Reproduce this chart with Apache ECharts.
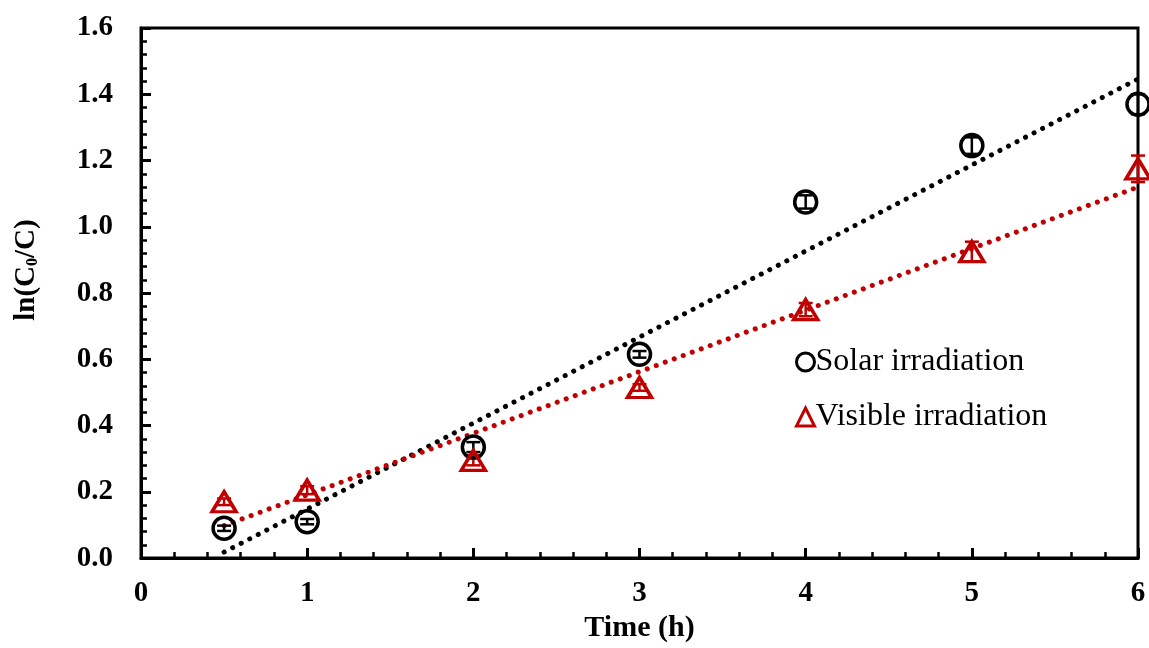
<!DOCTYPE html>
<html>
<head>
<meta charset="utf-8">
<script src="https://cdn.jsdelivr.net/npm/echarts@6/dist/echarts.min.js"></script>
<style>
  html, body { margin: 0; padding: 0; background: #fff; overflow: hidden; }
  #chart { width: 1149px; height: 648px; }
</style>
</head>
<body>
<div id="chart"></div>
<script>
  // time points (h)
  var times = [0.5, 1, 2, 3, 4, 5, 6];
  // ln(C0/C) values
  var solar = [0.09, 0.11, 0.335, 0.615, 1.075, 1.245, 1.37];
  var visible = [0.17, 0.205, 0.295, 0.515, 0.75, 0.925, 1.175];
  // error bar half-widths
  var solarErr = [0.008, 0.008, 0.015, 0.01, 0.02, 0.025, 0.03];
  var visibleErr = [0.01, 0.012, 0.015, 0.01, 0.02, 0.03, 0.04];
  // linear fit lines (end points)
  var solarFit = [[0.5, 0.018], [6, 1.446]];
  var visibleFit = [[0.5, 0.098], [6, 1.12]];
  var yTicks = ['0.0', '0.2', '0.4', '0.6', '0.8', '1.0', '1.2', '1.4', '1.6'];

  var serif = '"Liberation Serif", "Times New Roman", serif';
  var red = '#C00000';

  function pairs(vals) {
    return times.map(function (t, i) { return [t, vals[i]]; });
  }
  function errData(vals, errs) {
    return times.map(function (t, i) { return [t, vals[i] - errs[i], vals[i] + errs[i]]; });
  }
  function errRender(color) {
    return function (params, api) {
      var lo = api.coord([api.value(0), api.value(1)]);
      var hi = api.coord([api.value(0), api.value(2)]);
      var w = 7;
      var style = { stroke: color, lineWidth: 2.5, fill: null };
      return {
        type: 'group',
        children: [
          { type: 'line', shape: { x1: lo[0], y1: lo[1], x2: hi[0], y2: hi[1] }, style: style },
          { type: 'line', shape: { x1: lo[0] - w, y1: lo[1], x2: lo[0] + w, y2: lo[1] }, style: style },
          { type: 'line', shape: { x1: hi[0] - w, y1: hi[1], x2: hi[0] + w, y2: hi[1] }, style: style }
        ]
      };
    };
  }

  var chart = echarts.init(document.getElementById('chart'));
  chart.setOption({
    animation: false,
    backgroundColor: '#fff',
    grid: {
      left: 141, right: 11, top: 28, bottom: 80,
      show: true, borderColor: '#000', borderWidth: 3, backgroundColor: 'transparent'
    },
    legend: {
      orient: 'vertical',
      left: 790,
      top: 341,
      itemGap: 23,
      itemWidth: 18,
      itemHeight: 18,
      textStyle: { fontFamily: serif, fontSize: 32, color: '#000', padding: [0, 0, 0, -4] },
      data: [
        { name: 'Solar irradiation', icon: 'circle', itemStyle: { color: '#fff', borderColor: '#000', borderWidth: 3 } },
        { name: 'Visible irradiation', icon: 'triangle', itemStyle: { color: '#fff', borderColor: red, borderWidth: 3 } }
      ]
    },
    xAxis: {
      type: 'value',
      min: 0, max: 6, interval: 1,
      name: 'Time (h)',
      nameLocation: 'middle',
      nameGap: 50,
      nameTextStyle: { fontFamily: serif, fontSize: 30, fontWeight: 'bold', color: '#000' },
      axisLine: { show: true, lineStyle: { color: '#000', width: 3 } },
      axisTick: { show: true, inside: true, length: 10, lineStyle: { color: '#000', width: 3 } },
      minorTick: { show: true, splitNumber: 5, length: 6, lineStyle: { color: '#000', width: 2.5 } },
      axisLabel: { margin: 21, fontFamily: serif, fontSize: 29, fontWeight: 'bold', color: '#000' },
      splitLine: { show: false }
    },
    yAxis: {
      type: 'value',
      min: 0, max: 1.6, interval: 0.2,
      name: 'ln(C{sub|0}/C)',
      nameLocation: 'middle',
      nameGap: 100,
      nameRotate: 90,
      nameTextStyle: {
        fontFamily: serif, fontSize: 29, fontWeight: 'bold', color: '#000',
        padding: [0, 0, 0, 46],
        rich: { sub: { fontFamily: serif, fontSize: 16, fontWeight: 'bold', color: '#000', verticalAlign: 'bottom', padding: [12, 0, 0, 0] } }
      },
      axisLine: { show: true, lineStyle: { color: '#000', width: 3 } },
      axisTick: { show: true, inside: true, length: 10, lineStyle: { color: '#000', width: 3 } },
      minorTick: { show: true, splitNumber: 5, length: 6, lineStyle: { color: '#000', width: 2.5 } },
      axisLabel: {
        margin: 28, fontFamily: serif, fontSize: 29, fontWeight: 'bold', color: '#000',
        formatter: function (v) { return yTicks[Math.round(v / 0.2)]; }
      },
      splitLine: { show: false }
    },
    series: [
      {
        name: 'solarFit', type: 'line', data: solarFit, symbol: 'none', z: 1,
        lineStyle: { color: '#000', width: 5, type: [0.1, 9.5], cap: 'round' }
      },
      {
        name: 'visibleFit', type: 'line', data: visibleFit, symbol: 'none', z: 1,
        lineStyle: { color: red, width: 5, type: [0.1, 9.5], cap: 'round' }
      },
      {
        name: 'solarErr', type: 'custom', data: errData(solar, solarErr), z: 3,
        renderItem: errRender('#000')
      },
      {
        name: 'visibleErr', type: 'custom', data: errData(visible, visibleErr), z: 3,
        renderItem: errRender(red)
      },
      {
        name: 'Solar irradiation', type: 'scatter', data: pairs(solar), z: 4,
        symbol: 'circle', symbolSize: 22,
        itemStyle: { color: 'rgba(255,255,255,0)', borderColor: '#000', borderWidth: 3.5, opacity: 1 }
      },
      {
        name: 'Visible irradiation', type: 'scatter', data: pairs(visible), z: 4,
        symbol: 'triangle', symbolSize: [24, 20],
        itemStyle: { color: 'rgba(255,255,255,0)', borderColor: red, borderWidth: 3.5, opacity: 1 }
      }
    ]
  });
</script>
</body>
</html>
